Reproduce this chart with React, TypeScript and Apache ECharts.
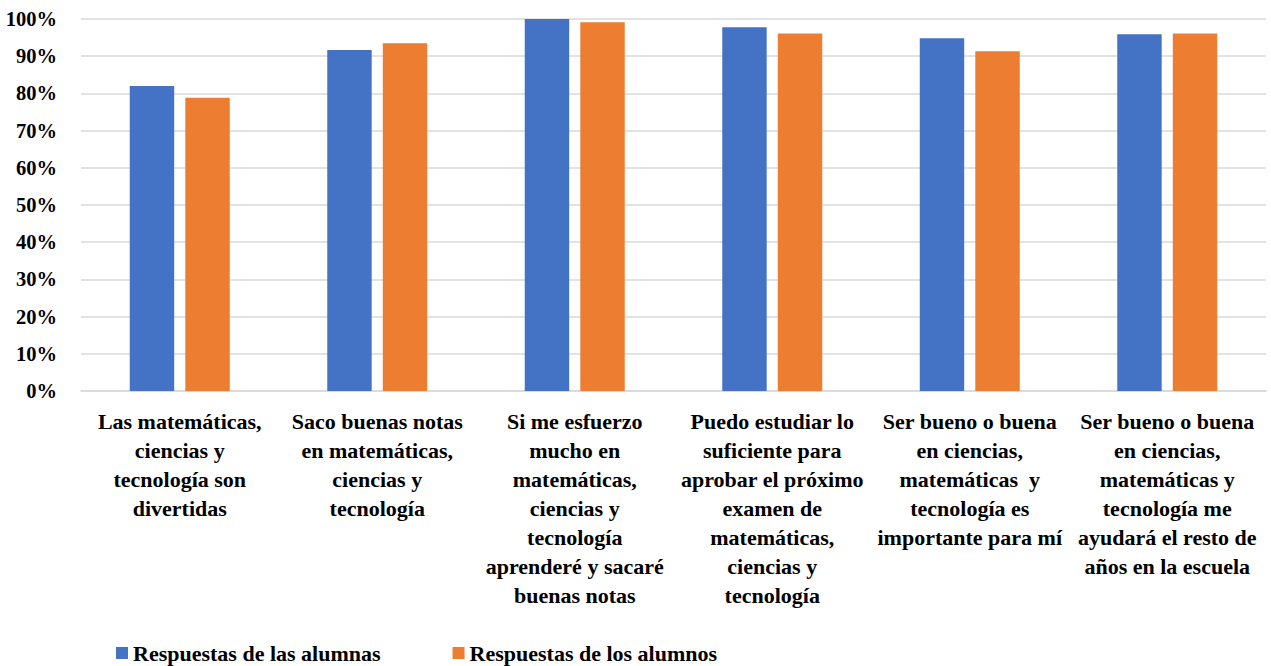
import React, { useEffect, useRef } from "react";
import * as echarts from "echarts";

const categories = [
  "Las matemáticas,\nciencias y\ntecnología son\ndivertidas",
  "Saco buenas notas\nen matemáticas,\nciencias y\ntecnología",
  "Si me esfuerzo\nmucho en\nmatemáticas,\nciencias y\ntecnología\naprenderé y sacaré\nbuenas notas",
  "Puedo estudiar lo\nsuficiente para\naprobar el próximo\nexamen de\nmatemáticas,\nciencias y\ntecnología",
  "Ser bueno o buena\nen ciencias,\nmatemáticas  y\ntecnología es\nimportante para mí",
  "Ser bueno o buena\nen ciencias,\nmatemáticas y\ntecnología me\nayudará el resto de\naños en la escuela",
];

const alumnas = [82.0, 91.7, 100.0, 97.8, 94.8, 95.9];
const alumnos = [78.8, 93.5, 99.1, 96.1, 91.3, 96.1];

const seriesNames = ["Respuestas de las alumnas", "Respuestas de los alumnos"];
const colors = ["#4472C4", "#ED7D31"];

const FONT = "'Liberation Serif', 'DejaVu Serif', serif";

export default function App() {
  const ref = useRef<HTMLDivElement>(null);

  useEffect(() => {
    if (!ref.current) return;
    const chart = echarts.init(ref.current, null, { renderer: "svg" });
    chart.setOption({
      animation: false,
      textStyle: { fontFamily: FONT },
      grid: { left: 81, right: 5, top: 19, bottom: 275, containLabel: false },
      legend: {
        left: 116,
        top: 641,
        padding: 0,
        itemWidth: 12,
        itemHeight: 12,
        itemGap: 72,
        icon: "rect",
        textStyle: {
          fontFamily: FONT,
          fontWeight: "bold",
          fontSize: 22,
          lineHeight: 24,
          color: "#000",
        },
        data: seriesNames,
      },
      xAxis: {
        type: "category",
        data: categories,
        axisLine: { lineStyle: { color: "#d9d9d9", width: 1.5 } },
        axisTick: { show: false },
        axisLabel: {
          interval: 0,
          margin: 16,
          color: "#000",
          fontFamily: FONT,
          fontWeight: "bold",
          fontSize: 22,
          lineHeight: 29,
          align: "center",
          verticalAlign: "top",
        },
      },
      yAxis: {
        type: "value",
        min: 0,
        max: 100,
        interval: 10,
        axisLine: { show: false },
        axisTick: { show: false },
        splitLine: { lineStyle: { color: "#d9d9d9", width: 1.5 } },
        axisLabel: {
          formatter: "{value}%",
          margin: 24,
          color: "#000",
          fontFamily: FONT,
          fontWeight: "bold",
          fontSize: 20.5,
        },
      },
      series: [
        {
          name: seriesNames[0],
          type: "bar",
          data: alumnas,
          itemStyle: { color: colors[0] },
          barWidth: "22.5%",
          barGap: "25%",
        },
        {
          name: seriesNames[1],
          type: "bar",
          data: alumnos,
          itemStyle: { color: colors[1] },
          barWidth: "22.5%",
          barGap: "25%",
        },
      ],
    });
    return () => chart.dispose();
  }, []);

  return (
    <div
      ref={ref}
      style={{ position: "absolute", left: 0, top: 0, width: 1271, height: 666, background: "#fff" }}
    />
  );
}
